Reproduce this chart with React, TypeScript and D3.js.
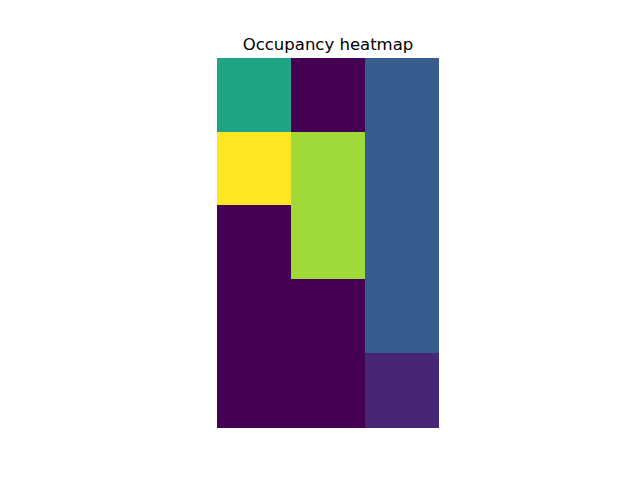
import * as d3 from "d3";
import React from "react";

// grid data (rows top -> bottom)
const rowLabels = ["r0", "r1", "r2", "r3", "r4"];
const colLabels = ["c0", "c1", "c2"];
const occupancy = [
  [7, 0, 3.5],
  [12, 10.3, 3.5],
  [0, 10.3, 3.5],
  [0, 0, 3.5],
  [0, 0, 1.3],
];
const title = "Occupancy heatmap";

const W = 640;
const H = 480;

export default function App() {
  // matplotlib default axes box
  const axTop = 0.12 * H;
  const axBottom = 0.89 * H;
  const cell = (axBottom - axTop) / rowLabels.length;
  const imgW = cell * colLabels.length;
  const cx = ((0.125 + 0.9) / 2) * W;
  const left = cx - imgW / 2;

  const x = d3.scaleBand().domain(colLabels).range([left, left + imgW]);
  const y = d3.scaleBand().domain(rowLabels).range([axTop, axBottom]);
  const all = occupancy.flat();
  const color = d3
    .scaleSequential(d3.interpolateViridis)
    .domain([d3.min(all)!, d3.max(all)!]);

  return (
    <svg
      width={W}
      height={H}
      style={{ position: "absolute", left: 0, top: 0, background: "white" }}
    >
      <g shapeRendering="crispEdges">
        {occupancy.map((row, i) =>
          row.map((v, j) => (
            <rect
              key={i + "-" + j}
              x={x(colLabels[j])}
              y={y(rowLabels[i])}
              width={x.bandwidth() + 0.5}
              height={y.bandwidth() + 0.5}
              fill={color(v)}
            />
          ))
        )}
      </g>
      <text
        x={cx}
        y={axTop - 8}
        textAnchor="middle"
        fontFamily="DejaVu Sans"
        fontSize={16.5}
        fill="black"
      >
        {title}
      </text>
    </svg>
  );
}
